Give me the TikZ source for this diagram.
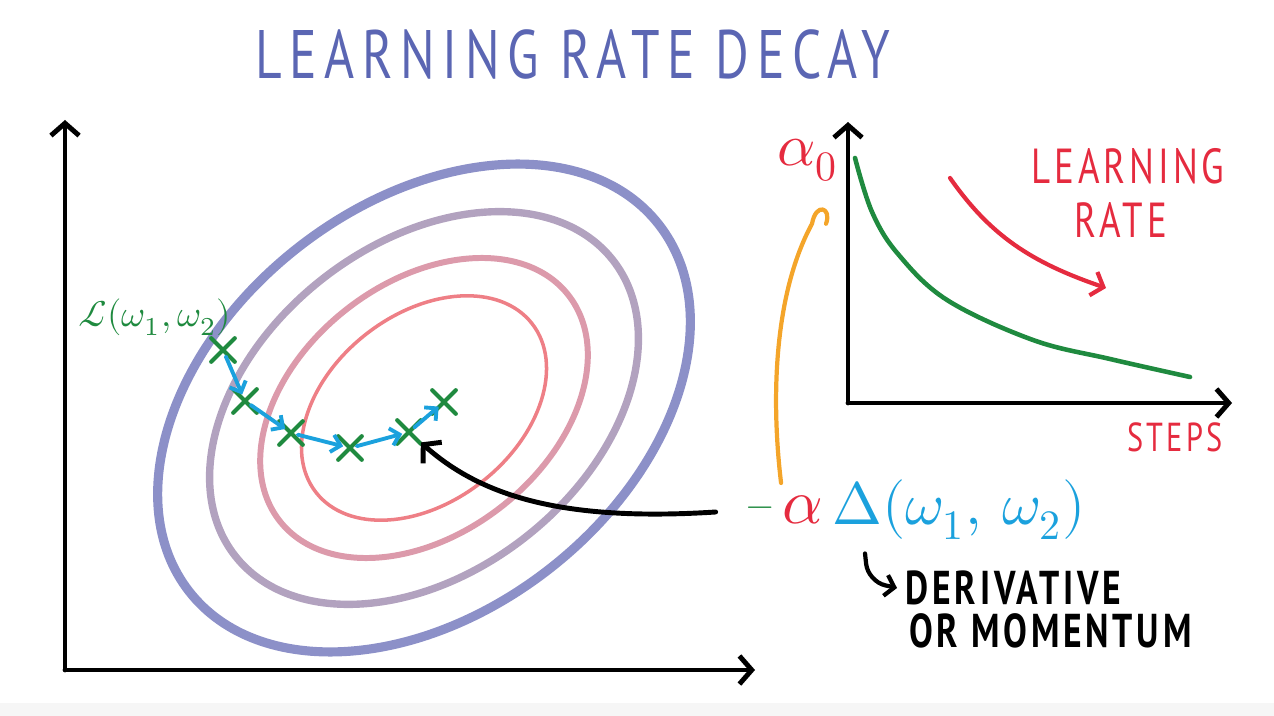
\documentclass[tikz,border=0pt]{standalone}
\usepackage{fontspec}
\usepackage{unicode-math}
\usepackage{tikz}
\usetikzlibrary{arrows.meta,shapes.misc,positioning,calc}
\usepackage{xcolor}

\newfontfamily\handfont[FakeStretch=0.75,LetterSpace=8]{PT Sans}
\newfontfamily\titlefont[FakeStretch=0.75,LetterSpace=11]{PT Sans}

\definecolor{titleblue}{HTML}{5B66B3}
\definecolor{ringa}{HTML}{8C90C8}
\definecolor{ringb}{HTML}{B2A2BF}
\definecolor{ringc}{HTML}{DC9AAB}
\definecolor{ringd}{HTML}{EE7F86}
\definecolor{lossgreen}{HTML}{1F8A3F}
\definecolor{stepcyan}{HTML}{1BA1DD}
\definecolor{lrred}{HTML}{E52B3F}
\definecolor{lrorange}{HTML}{F4A52A}

\begin{document}
\begin{tikzpicture}[
    x=0.01cm, y=-0.01cm,
    line cap=round, line join=round,
    >={Straight Barb[length=3.5pt,width=8pt]},
    axis/.style={->, line width=1.4pt},
    wmark/.style={cross out, draw=lossgreen, line width=1.2pt, minimum size=5.5pt, inner sep=0pt},
    stepline/.style={->, draw=stepcyan, line width=1.1pt, shorten <=2pt, shorten >=2pt, >={Straight Barb[length=2.5pt,width=5pt]}},
    hand/.style={font=\handfont\fontsize{#1}{#1}\selectfont, inner sep=0pt},
    boldhand/.style={font=\handfont\bfseries\fontsize{#1}{#1}\selectfont, inner sep=0pt},
    mathtxt/.style={font=\fontsize{#1}{#1}\selectfont, inner sep=0pt}
]
\useasboundingbox (0,0) rectangle (1274,716);
\fill[gray!7] (0,703) rectangle (1274,716);

% Title
\node[text=titleblue, font=\titlefont\fontsize{19.5}{19.5}\selectfont, inner sep=0pt] (title) at (573,55) {LEARNING RATE DECAY};

% Loss surface
\coordinate (o1) at (65,670);
\draw[axis] (o1) -- (65,120);
\draw[axis] (o1) -- (755,670);

\foreach \s/\col/\lw in {1/ringa/2.6pt, 0.805/ringb/2.1pt, 0.615/ringc/1.7pt, 0.46/ringd/1pt}
  \draw[\col, line width=\lw, rotate around={38:(424,408)}] (424,408) ellipse [x radius=298*\s, y radius=204*\s];

\node[mathtxt=10.5, text=lossgreen] (loss) at (155,317) {$\mathcal{L}(\omega_1,\omega_2)$};

% Descent steps
\node[wmark] (p1) at (223,350) {};
\node[wmark] (p2) at (245,401) {};
\node[wmark] (p3) at (291,433) {};
\node[wmark] (p4) at (350,448) {};
\node[wmark] (p5) at (409,432) {};
\node[wmark] (p6) at (444,402) {};
\foreach \a/\b in {p1/p2,p2/p3,p3/p4,p4/p5,p5/p6}
  \draw[stepline] (\a.center) -- (\b.center);

% Update term
\node[mathtxt=10, text=lossgreen] (minus) at (760,512) {$-$};
\node[mathtxt=18, text=lrred] (alpha) at (803,510) {$\alpha$};
\node[mathtxt=17, text=stepcyan, anchor=west] (grad) at (832,510) {$\Delta(\omega_1,\,\omega_2)$};

\draw[->, line width=1.4pt] ($(minus.west)+(-30,0)$) .. controls (560,522) and (480,495) .. (p5);

\node[boldhand=13.5, anchor=west] (deriv) at (905,588) {DERIVATIVE};
\node[boldhand=13.5, below=2pt of deriv.south west, anchor=north west, xshift=1pt] (mom) {OR MOMENTUM};
\draw[->, line width=1.2pt, >={Straight Barb[length=2.5pt,width=6pt]}, rounded corners=5pt]
  ($(grad.south west)+(33,13)$) -- ++(3,28) -- ($(deriv.west)+(-8,0)$);

% Learning rate plot
\coordinate (o2) at (848,403);
\draw[axis] (o2) -- (848,122);
\draw[axis] (o2) -- (1232,403);

\node[mathtxt=17, text=lrred] (azero) at (808,160) {$\alpha_0$};
\coordinate (hooktop) at ($(azero.south)+(4,42)$);
\draw[lrorange, line width=1.2pt] ($(alpha.north west)+(-1,-12)$) .. controls (770,390) and (776,290) .. (hooktop)
  .. controls ($(hooktop)+(4,-22)$) and ($(hooktop)+(20,-16)$) .. ($(hooktop)+(14,0)$);

\draw[lossgreen, line width=1.3pt] plot[smooth, tension=0.6] coordinates {(855,158) (872,212) (898,254) (947,300) (1033,340) (1110,359) (1190,377)};

\node[hand=14, text=lrred] (learn) at (1128,166) {LEARNING};
\node[hand=14, text=lrred, below=5pt of learn, xshift=-2pt] (rate) {RATE};
\node[hand=11.5, text=lrred] (steps) at (1175,437) {STEPS};

\draw[->, lrred, line width=1.2pt, >={Straight Barb[length=3pt,width=7pt]}] (950,178) .. controls (990,235) and (1030,262) .. (1106,288);

\end{tikzpicture}
\end{document}
